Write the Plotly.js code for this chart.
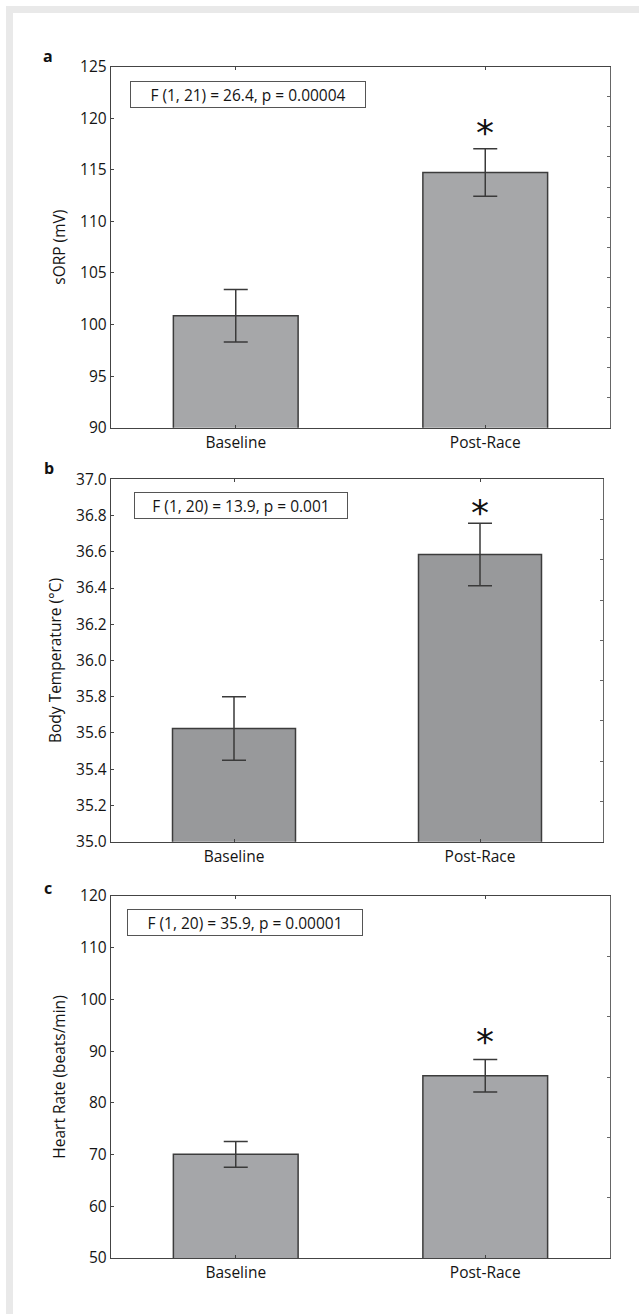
<!DOCTYPE html>
<html>
<head>
<meta charset="utf-8">
<script src="https://cdn.plot.ly/plotly-3.0.1.min.js"></script>
<style>
  html, body { margin: 0; padding: 0; background: #ffffff; }
  #wrap { position: relative; width: 641px; height: 1314px; overflow: hidden; }
  #chart { position: absolute; left: 0; top: 0; width: 641px; height: 1314px; }
  .band { position: absolute; background: #e9e9e9; z-index: 5; }
</style>
</head>
<body>
<div id="wrap">
  <div id="chart"></div>
  <div class="band" style="left:6px; top:6px; width:633px; height:7px;"></div>
  <div class="band" style="left:6px; top:6px; width:7px; height:1308px;"></div>
</div>
<script>
// ---- data ----
const categories = ['Baseline', 'Post-Race'];

const sorpMean = [100.85, 114.75];
const sorpSE   = [2.55, 2.3];

const tempMean = [35.625, 36.585];
const tempSE   = [0.175, 0.173];

const hrMean = [70.05, 85.25];
const hrSE   = [2.5, 3.15];

const panelLetters = ['a', 'b', 'c'];
const yTitles = ['sORP (mV)', 'Body Temperature (°C)', 'Heart Rate (beats/min)'];
const statLabels = [
  'F (1, 21) = 26.4, p = 0.00004',
  'F (1, 20) = 13.9, p = 0.001',
  'F (1, 20) = 35.9, p = 0.00001'
];
const starY = [119.25, 36.85, 93.1];
const yRanges = [[90, 125], [35, 37], [50, 120]];
const yDticks = [5, 0.2, 10];
const rightDivisions = [12, 9, 6];

// ---- geometry (px) ----
const W = 641, H = 1314;
const panels = [
  { left: 111, right: 610, top: 66.7, bottom: 427.7, color: '#a6a7a9',
    box: { left: 130, top: 81, w: 236, h: 27 } },
  { left: 111, right: 603, top: 479.3, bottom: 841.7, color: '#98999b',
    box: { left: 134, top: 491.7, w: 214, h: 27 } },
  { left: 111, right: 610, top: 896, bottom: 1258, color: '#a5a6a9',
    box: { left: 127, top: 908.5, w: 236, h: 27 } }
];
const letterPos = [[48, 56], [49, 468], [48, 888]];

const means = [sorpMean, tempMean, hrMean];
const ses = [sorpSE, tempSE, hrSE];

const FONT = '"Open Sans", "Noto Sans", sans-serif';
const FS = 15.5;
const TXT = '#141414';
const data = [];
const layout = {
  width: W, height: H,
  margin: { l: 0, r: 0, t: 0, b: 0 },
  paper_bgcolor: '#ffffff', plot_bgcolor: '#ffffff',
  showlegend: false,
  font: { family: FONT, size: FS, color: TXT },
  annotations: [],
  bargap: 0
};

panels.forEach((p, i) => {
  const n = i + 1;
  const xk = 'xaxis' + (n === 1 ? '' : n);
  const yk = 'yaxis' + (n === 1 ? '' : n);
  const xr = 'x' + (n === 1 ? '' : n);
  const yr = 'y' + (n === 1 ? '' : n);
  const rn = n + 3;
  const ykR = 'yaxis' + rn;
  const yrR = 'y' + rn;

  const xd = [p.left / W, p.right / W];
  const yd = [1 - p.bottom / H, 1 - p.top / H];

  data.push({
    type: 'bar', x: categories, y: means[i],
    xaxis: xr, yaxis: yr, width: 0.5,
    marker: { color: p.color, line: { color: '#3c3c3c', width: 1.5 } },
    error_y: { type: 'data', array: ses[i], visible: true,
               color: '#3a3a3a', thickness: 1.5, width: 12 },
    hoverinfo: 'skip', cliponaxis: false
  });

  layout[xk] = {
    domain: xd, anchor: yr, type: 'category', range: [-0.5, 1.5],
    showline: true, linecolor: '#444', linewidth: 1.2, mirror: 'ticks',
    ticks: 'inside', ticklen: 3, tickwidth: 1, tickcolor: '#444',
    showgrid: false, zeroline: false, fixedrange: true,
    tickfont: { family: FONT, size: FS, color: TXT }
  };
  layout[yk] = {
    domain: yd, anchor: xr, range: yRanges[i], dtick: yDticks[i],
    tick0: yRanges[i][0], tickformat: i === 1 ? '.1f' : 'd',
    showline: true, linecolor: '#444', linewidth: 1.2, mirror: false,
    ticks: 'inside', ticklen: 3, tickwidth: 1, tickcolor: '#444',
    showgrid: false, zeroline: false, fixedrange: true, automargin: false,
    tickfont: { family: FONT, size: FS, color: TXT },
    title: { text: yTitles[i], font: { family: FONT, size: FS, color: TXT }, standoff: 10 }
  };
  layout[ykR] = {
    overlaying: yr, anchor: xr, side: 'right', range: [0, rightDivisions[i]], dtick: 1,
    showline: true, linecolor: '#666', linewidth: 1.2,
    ticks: 'inside', ticklen: 3, tickwidth: 1, tickcolor: '#666',
    showticklabels: false, showgrid: false, zeroline: false, fixedrange: true
  };
  data.push({ type: 'scatter', x: [], y: [], xaxis: xr, yaxis: yrR, hoverinfo: 'skip' });

  const pw = p.right - p.left, ph = p.bottom - p.top;
  layout.annotations.push({
    xref: xr + ' domain', yref: yr + ' domain',
    x: (p.box.left - p.left) / pw, y: 1 - (p.box.top - p.top) / ph,
    xanchor: 'left', yanchor: 'top', showarrow: false,
    text: statLabels[i], width: p.box.w - 2, height: p.box.h - 2,
    align: 'center', valign: 'middle',
    bordercolor: '#555', borderwidth: 1, borderpad: 0, bgcolor: '#ffffff',
    font: { family: FONT, size: FS, color: TXT }
  });
  layout.annotations.push({
    xref: xr, yref: yr, x: categories[1], y: starY[i],
    xanchor: 'center', yanchor: 'middle', showarrow: false,
    text: '*', yshift: -6,
    font: { family: 'DejaVu Sans', size: 36, color: '#111' }
  });
  layout.annotations.push({
    xref: 'paper', yref: 'paper', x: letterPos[i][0] / W, y: 1 - letterPos[i][1] / H,
    xanchor: 'center', yanchor: 'middle', showarrow: false,
    text: '<b>' + panelLetters[i] + '</b>',
    font: { family: FONT, size: 16, color: '#111' }
  });
});

Plotly.newPlot('chart', data, layout, { staticPlot: true, displayModeBar: false });
</script>
</body>
</html>
